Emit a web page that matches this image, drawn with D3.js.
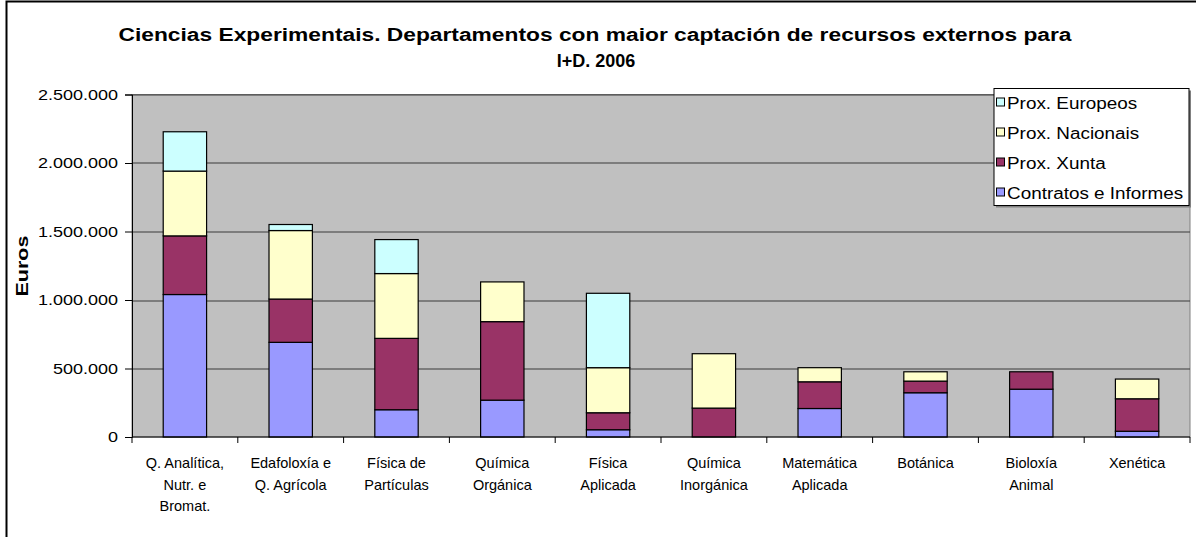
<!DOCTYPE html>
<html>
<head>
<meta charset="utf-8">
<script src="https://cdn.jsdelivr.net/npm/d3@7"></script>
<style>
  body { margin: 0; background: #fff; }
  svg { display: block; font-family: "Liberation Sans", Arial, sans-serif; }
</style>
</head>
<body>
<div id="chart"></div>
<script>
// data
const departments = [
  ["Q. Analítica,", "Nutr. e", "Bromat."],
  ["Edafoloxía e", "Q. Agrícola"],
  ["Física de", "Partículas"],
  ["Química", "Orgánica"],
  ["Física", "Aplicada"],
  ["Química", "Inorgánica"],
  ["Matemática", "Aplicada"],
  ["Botánica"],
  ["Bioloxía", "Animal"],
  ["Xenética"]
];
const seriesNames = ["Contratos e Informes", "Prox. Xunta", "Prox. Nacionais", "Prox. Europeos"];
const contratos = [1040000, 691000, 199000, 269000, 53000, 0, 208000, 323000, 349000, 42000];
const xunta     = [428000, 316000, 521000, 573000, 124000, 211000, 195000, 85000, 127000, 237000];
const nacionais = [473000, 500000, 473000, 290000, 329000, 397000, 103000, 68000, 0, 144000];
const europeos  = [287000, 44000, 248000, 0, 543000, 0, 0, 0, 0, 0];
const yTicks = [0, 500000, 1000000, 1500000, 2000000, 2500000];
const colors = ["#9999FF", "#993366", "#FFFFCC", "#CCFFFF"];

const W = 1196, H = 537;
const mg = { left: 132, right: 6, top: 94.5, bottom: 100 };
const plotW = W - mg.left - mg.right;
const plotH = H - mg.top - mg.bottom;

// widen text the way the old chart renders it
function stretch (sel, f) {
  sel.each(function () {
    const len = this.getComputedTextLength();
    d3.select(this).attr('textLength', len * f).attr('lengthAdjust', 'spacingAndGlyphs');
  });
}

const svg = d3.select('#chart').append('svg')
  .attr('width', W).attr('height', H);

// outer frame
svg.append('rect')
  .attr('x', 6.5).attr('y', 1.5)
  .attr('width', W + 10).attr('height', H + 10)
  .attr('fill', 'none').attr('stroke', '#000').attr('stroke-width', 2);

// title
const t1 = svg.append('text')
  .attr('x', 595).attr('y', 41)
  .attr('text-anchor', 'middle')
  .style('font-size', '18px').style('font-weight', 'bold')
  .text('Ciencias Experimentais. Departamentos con maior captación de recursos externos para');
t1.attr('textLength', 953).attr('lengthAdjust', 'spacingAndGlyphs');
svg.append('text')
  .attr('x', 596).attr('y', 67)
  .attr('text-anchor', 'middle')
  .style('font-size', '18px').style('font-weight', 'bold')
  .text('I+D. 2006');

const keys = departments.map((d, i) => i);
const rows = keys.map(i => ({
  i: i,
  "Contratos e Informes": contratos[i],
  "Prox. Xunta": xunta[i],
  "Prox. Nacionais": nacionais[i],
  "Prox. Europeos": europeos[i]
}));

const x = d3.scaleBand().domain(keys).range([0, plotW]).paddingInner(0).paddingOuter(0);
const y = d3.scaleLinear().domain([0, 2500000]).range([plotH, 0]);

const g = svg.append('g').attr('transform', `translate(${mg.left},${mg.top})`);

// plot background
g.append('rect').attr('width', plotW).attr('height', plotH)
  .attr('fill', '#C0C0C0').attr('stroke', '#808080');

// gridlines
g.selectAll('.grid').data(yTicks.slice(1)).enter().append('line')
  .attr('class', 'grid')
  .attr('x1', 0).attr('x2', plotW)
  .attr('y1', d => Math.round(y(d)) + 0.5).attr('y2', d => Math.round(y(d)) + 0.5)
  .attr('stroke', '#3a3a3a');

// stacked bars
const stack = d3.stack().keys(seriesNames)(rows);
const barW = x.bandwidth() * 0.41;
g.selectAll('.series').data(stack).enter().append('g')
  .attr('class', 'series')
  .attr('fill', (d, i) => colors[i])
  .selectAll('rect').data(d => d.filter(s => s[1] - s[0] > 0)).enter().append('rect')
  .attr('x', d => x(d.data.i) + (x.bandwidth() - barW) / 2)
  .attr('y', d => y(d[1]))
  .attr('width', barW)
  .attr('height', d => y(d[0]) - y(d[1]))
  .attr('stroke', '#000').attr('stroke-width', 1.2);

// y axis
const fmt = d3.formatLocale({ decimal: ",", thousands: ".", grouping: [3], currency: ["", "€"] }).format(",d");
const yAxis = g.append('g')
  .call(d3.axisLeft(y).tickValues(yTicks).tickFormat(fmt).tickSize(7).tickPadding(7));
yAxis.select('.domain').attr('stroke', '#000');
yAxis.selectAll('text').style('font-size', '15px').attr('fill', '#000')
  .style('font-family', '"Liberation Sans", Arial, sans-serif');
stretch(yAxis.selectAll('text'), 1.2);

// x axis
const xAxis = g.append('g').attr('transform', `translate(0,${plotH})`);
xAxis.append('line').attr('x1', 0).attr('x2', plotW).attr('stroke', '#000');
xAxis.selectAll('.tick').data(d3.range(keys.length + 1)).enter().append('line')
  .attr('x1', d => d * x.step()).attr('x2', d => d * x.step())
  .attr('y1', 0).attr('y2', 6).attr('stroke', '#000');

const xLab = xAxis.selectAll('.xlab').data(departments).enter().append('text')
  .attr('text-anchor', 'middle')
  .style('font-size', '14.5px');
xLab.each(function (lines, i) {
  d3.select(this).selectAll('tspan').data(lines).enter().append('tspan')
    .attr('x', x(i) + x.bandwidth() / 2)
    .attr('y', (d, j) => 31 + j * 21.5)
    .text(d => d);
});

// y title
const yt = svg.append('text')
  .attr('transform', 'translate(28,266) rotate(-90)')
  .attr('text-anchor', 'middle')
  .style('font-size', '17px').style('font-weight', 'bold')
  .text('Euros');
yt.attr('textLength', 61).attr('lengthAdjust', 'spacingAndGlyphs');

// legend
const lg = svg.append('g').attr('transform', 'translate(994,88.5)');
lg.append('rect').attr('x', 2).attr('y', 2).attr('width', 195).attr('height', 117).attr('fill', '#808080');
lg.append('rect').attr('width', 195).attr('height', 117)
  .attr('fill', '#fff').attr('stroke', '#000');
const legendOrder = [3, 2, 1, 0];
const li = lg.selectAll('.li').data(legendOrder).enter().append('g')
  .attr('transform', (d, k) => `translate(0,${14 + k * 30})`);
li.append('rect').attr('x', 2.5).attr('y', -4.5).attr('width', 8).attr('height', 8)
  .attr('fill', d => colors[d]).attr('stroke', '#000');
const lt = li.append('text').attr('x', 13).attr('y', 6)
  .style('font-size', '16px')
  .text(d => seriesNames[d]);
stretch(lt, 1.18);
</script>
</body>
</html>
